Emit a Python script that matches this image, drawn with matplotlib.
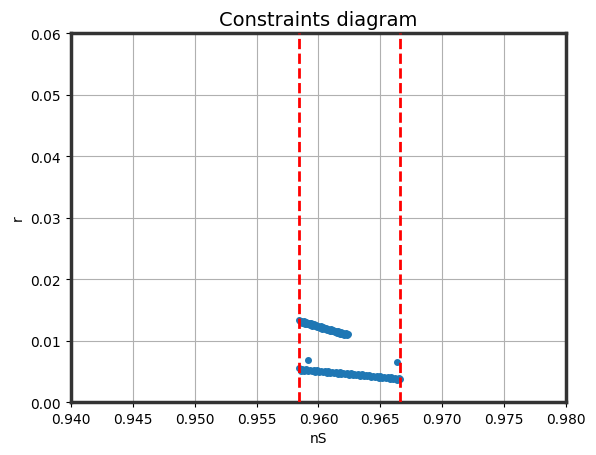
import matplotlib
matplotlib.use("Agg")
import matplotlib.pyplot as plt

# upper branch of the scan (two rows of samples)
ns_upper = [0.9584, 0.9586, 0.9588, 0.9590, 0.9592, 0.9594, 0.9596, 0.9598, 0.9600, 0.9602,
            0.9604, 0.9606, 0.9608, 0.9610, 0.9612, 0.9614, 0.9616, 0.9618, 0.9620, 0.9622, 0.9624]
r_upper = [0.01335, 0.01324, 0.01312, 0.01300, 0.01289, 0.01277, 0.01266, 0.01253, 0.01242, 0.01231,
           0.01219, 0.01207, 0.01195, 0.01185, 0.01172, 0.01162, 0.01149, 0.01138, 0.01126, 0.01115, 0.01103]
ns_upper2 = [0.9585, 0.9587, 0.9589, 0.9591, 0.9593, 0.9595, 0.9597, 0.9599, 0.9601, 0.9603,
             0.9605, 0.9607, 0.9609, 0.9611, 0.9613, 0.9615, 0.9617, 0.9619, 0.9621, 0.9623]
r_upper2 = [0.01310, 0.01290, 0.01276, 0.01262, 0.01251, 0.01240, 0.01228, 0.01216, 0.01205, 0.01193,
            0.01181, 0.01169, 0.01158, 0.01147, 0.01135, 0.01124, 0.01112, 0.01102, 0.01093, 0.01085]

# lower branch (two rows of samples)
ns_lower = [0.9584, 0.9587, 0.9590, 0.9593, 0.9596, 0.9599, 0.9602, 0.9605, 0.9608, 0.9611,
            0.9614, 0.9617, 0.9620, 0.9623, 0.9626, 0.9629, 0.9632, 0.9635, 0.9638, 0.9641,
            0.9644, 0.9647, 0.9650, 0.9653, 0.9656, 0.9659, 0.9662, 0.9665, 0.9666]
r_lower = [0.00545, 0.00533, 0.00529, 0.00525, 0.00521, 0.00516, 0.00510, 0.00504, 0.00499, 0.00493,
           0.00488, 0.00482, 0.00476, 0.00471, 0.00465, 0.00460, 0.00454, 0.00448, 0.00443, 0.00437,
           0.00431, 0.00425, 0.00419, 0.00413, 0.00407, 0.00401, 0.00395, 0.00387, 0.00377]
ns_lower2 = [0.95855, 0.95885, 0.95915, 0.95945, 0.95975, 0.96005, 0.96035, 0.96065, 0.96095,
             0.96125, 0.96155, 0.96185, 0.96215, 0.96245, 0.96275, 0.96305, 0.96335, 0.96365,
             0.96395, 0.96425, 0.96455, 0.96485, 0.96515, 0.96545, 0.96575, 0.96605, 0.96635]
r_lower2 = [0.00512, 0.00505, 0.00502, 0.00498, 0.00494, 0.00488, 0.00482, 0.00477, 0.00471,
            0.00466, 0.00460, 0.00454, 0.00449, 0.00443, 0.00438, 0.00432, 0.00426, 0.00421,
            0.00415, 0.00409, 0.00403, 0.00397, 0.00391, 0.00385, 0.00379, 0.00373, 0.00366]

# stray points
ns_extra = [0.95915, 0.96634]
r_extra = [0.00683, 0.00650]

# nS bounds
ns_bounds = [0.9584, 0.96659]

fig = plt.figure(figsize=(5.96, 4.56), dpi=100)
ax = fig.add_axes([0.119, 0.1162, 0.8307, 0.8092])

ns_all = ns_upper + ns_upper2 + ns_lower + ns_lower2 + ns_extra
r_all = r_upper + r_upper2 + r_lower + r_lower2 + r_extra
ax.scatter(ns_all, r_all, s=16, color='tab:blue', zorder=2)
for b in ns_bounds:
    ax.axvline(b, color='red', linestyle='--', linewidth=2, zorder=3)

ax.set_xlim(0.94, 0.98)
ax.set_ylim(0.0, 0.06)
ax.set_xlabel('nS')
ax.set_ylabel('r')
ax.set_title('Constraints diagram', fontsize=14)
ax.grid(True)
ax.set_axisbelow(True)
for sp in ax.spines.values():
    sp.set_linewidth(2.5)
    sp.set_color('#333333')

plt.savefig('out.png')
plt.close()
